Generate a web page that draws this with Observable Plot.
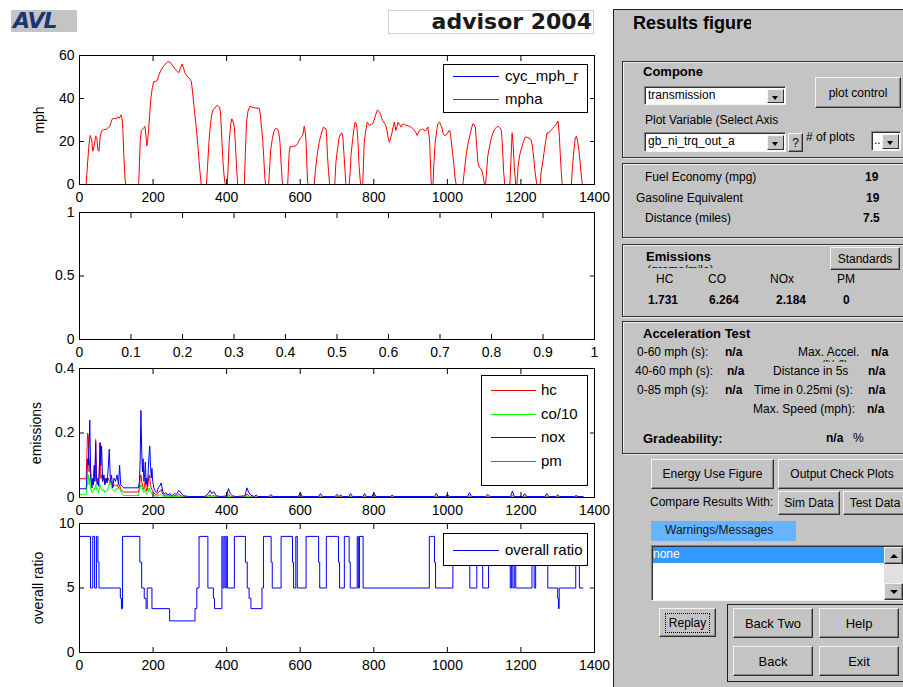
<!DOCTYPE html>
<html>
<head>
<meta charset="utf-8">
<script src="https://cdn.jsdelivr.net/npm/d3@7"></script>
<script src="https://cdn.jsdelivr.net/npm/@observablehq/plot@0.6"></script>
<style>
body{margin:0;background:#fff;}
#root{position:relative;width:903px;height:687px;overflow:hidden;background:#fff;font-family:'Liberation Sans',Arial,Helvetica,sans-serif;}
.t{position:absolute;font-size:12px;line-height:14px;white-space:nowrap;color:#000;}
.b{font-weight:bold;}
.h{font-weight:bold;font-size:13px;}
.box{position:absolute;border:1px solid #303030;box-shadow:inset 1px 1px 0 #ececec,1px 1px 0 #ececec;}
.btn{position:absolute;box-sizing:border-box;background:#c4c4c4;border:1px solid;border-color:#f4f4f4 #303030 #303030 #f4f4f4;box-shadow:inset -1px -1px 0 #858585;font-size:12px;display:flex;align-items:center;justify-content:center;white-space:nowrap;color:#000;}
.dd{position:absolute;box-sizing:border-box;background:#fff;border:1px solid;border-color:#858585 #f4f4f4 #f4f4f4 #858585;box-shadow:inset 1px 1px 0 #303030;font-size:12px;line-height:16px;padding-left:3px;white-space:nowrap;overflow:hidden;}
.arr{position:absolute;top:2px;right:1px;bottom:1px;width:17px;box-sizing:border-box;background:#c4c4c4;border:1px solid;border-color:#f4f4f4 #303030 #303030 #f4f4f4;}
.arr::after{content:"";position:absolute;left:4px;top:6px;border-left:3px solid transparent;border-right:3px solid transparent;border-top:4px solid #000;}
.leg{position:absolute;box-sizing:border-box;background:#fff;border:1px solid #000;font-size:15px;}
.leg .ln{position:absolute;height:0;border-top:1px solid;}
.leg .lt{position:absolute;line-height:16px;white-space:nowrap;}
</style>
</head>
<body>
<div id="root">
  <!-- header -->
  <div style="position:absolute;left:11px;top:10px;width:66px;height:22px;background:#c4c4c4;"></div>
  <div style="position:absolute;left:13px;top:10px;font:italic bold 22px/22px 'DejaVu Sans',sans-serif;color:#1c3472;letter-spacing:-1px;white-space:nowrap;">AVL</div>
  <div style="position:absolute;left:388px;top:10px;width:206px;height:24px;border:1px solid #d0d0d0;box-sizing:border-box;"></div>
  <div style="position:absolute;left:400px;width:192px;text-align:right;top:10px;font:bold 22px/24px 'DejaVu Sans',sans-serif;color:#1a1a1a;white-space:nowrap;">advisor 2004</div>

  <!-- right GUI panel -->
  <div style="position:absolute;left:613px;top:9px;width:300px;height:690px;background:#c4c4c4;border-left:1px solid #202020;border-top:1px solid #202020;"></div>
  <div class="t" style="left:633px;top:13px;width:118px;overflow:hidden;font-size:18px;line-height:20px;font-weight:bold;">Results figure</div>

  <div class="box" style="left:622px;top:61px;width:300px;height:95px;"></div>
  <div class="t h" style="left:643px;top:65px;">Compone</div>
  <div class="dd" style="left:644px;top:86px;width:142px;height:19px;">transmission<div class="arr"></div></div>
  <div class="btn" style="left:815px;top:77px;width:86px;height:31px;">plot control</div>
  <div class="t" style="left:645px;top:113px;">Plot Variable (Select Axis</div>
  <div class="dd" style="left:644px;top:132px;width:142px;height:20px;">gb_ni_trq_out_a<div class="arr"></div></div>
  <div class="btn" style="left:788px;top:133px;width:15px;height:19px;">?</div>
  <div class="t" style="left:806px;top:130px;">#&nbsp;of plots</div>
  <div class="dd" style="left:871px;top:131px;width:30px;height:20px;padding-left:2px;">..<div class="arr"></div></div>

  <div class="box" style="left:622px;top:163px;width:300px;height:73px;"></div>
  <div class="t" style="left:645px;top:170px;">Fuel Economy (mpg)</div>
  <div class="t b" style="left:865px;top:170px;">19</div>
  <div class="t" style="left:636px;top:191px;">Gasoline Equivalent</div>
  <div class="t b" style="left:866px;top:191px;">19</div>
  <div class="t" style="left:645px;top:211px;">Distance (miles)</div>
  <div class="t b" style="left:863px;top:211px;">7.5</div>

  <div class="box" style="left:622px;top:244px;width:300px;height:71px;"></div>
  <div class="t h" style="left:646px;top:250px;">Emissions</div>
  <div class="btn" style="left:830px;top:247px;width:70px;height:23px;">Standards</div>
  <div style="position:absolute;left:647px;top:264px;width:70px;height:4px;overflow:hidden;"><div class="t" style="left:0;top:-1px;">(grams/mile)</div></div>
  <div class="t" style="left:656px;top:272px;">HC</div>
  <div class="t" style="left:708px;top:272px;">CO</div>
  <div class="t" style="left:770px;top:272px;">NOx</div>
  <div class="t" style="left:837px;top:272px;">PM</div>
  <div class="t b" style="left:648px;top:293px;">1.731</div>
  <div class="t b" style="left:709px;top:293px;">6.264</div>
  <div class="t b" style="left:776px;top:293px;">2.184</div>
  <div class="t b" style="left:843px;top:293px;">0</div>

  <div class="box" style="left:622px;top:321px;width:300px;height:131px;"></div>
  <div class="t h" style="left:643px;top:327px;">Acceleration Test</div>
  <div class="t" style="left:637px;top:345px;">0-60 mph (s):</div>
  <div class="t b" style="left:725px;top:345px;">n/a</div>
  <div class="t" style="left:798px;top:345px;">Max. Accel.</div>
  <div class="t b" style="left:871px;top:345px;">n/a</div>
  <div style="position:absolute;left:822px;top:359px;width:36px;height:3px;overflow:hidden;"><div class="t" style="left:0;top:-1px;font-size:10px;">(ft/s2)</div></div>
  <div class="t" style="left:635px;top:364px;">40-60 mph (s):</div>
  <div class="t b" style="left:727px;top:364px;">n/a</div>
  <div class="t" style="left:773px;top:364px;">Distance in 5s</div>
  <div class="t b" style="left:868px;top:364px;">n/a</div>
  <div class="t" style="left:637px;top:383px;">0-85 mph (s):</div>
  <div class="t b" style="left:725px;top:383px;">n/a</div>
  <div class="t" style="left:754px;top:383px;">Time in 0.25mi (s):</div>
  <div class="t b" style="left:868px;top:383px;">n/a</div>
  <div class="t" style="left:753px;top:402px;">Max. Speed (mph):</div>
  <div class="t b" style="left:867px;top:402px;">n/a</div>
  <div class="t h" style="left:643px;top:432px;">Gradeability:</div>
  <div class="t b" style="left:826px;top:431px;">n/a</div>
  <div class="t" style="left:853px;top:431px;">%</div>

  <div class="btn" style="left:651px;top:459px;width:123px;height:30px;">Energy Use Figure</div>
  <div class="btn" style="left:778px;top:459px;width:128px;height:30px;">Output Check Plots</div>
  <div class="t" style="left:650px;top:495px;">Compare Results With:</div>
  <div class="btn" style="left:778px;top:491px;width:62px;height:24px;">Sim Data</div>
  <div class="btn" style="left:843px;top:491px;width:64px;height:24px;">Test Data</div>
  <div class="t" style="left:651px;top:521px;width:145px;height:20px;background:#66b3ff;line-height:18px;padding-left:14px;box-sizing:border-box;color:#1a1a1a;">Warnings/Messages</div>
  <div class="dd" style="left:651px;top:545px;width:256px;height:56px;padding:0;"></div>
  <div class="t" style="left:653px;top:547px;width:231px;height:16px;background:#3399ff;color:#fff;line-height:15px;">none</div>
  <div style="position:absolute;left:884px;top:547px;width:19px;height:53px;background:#e0e0e0;"></div>
  <div class="btn" style="left:884px;top:547px;width:19px;height:17px;"><div style="border-left:4px solid transparent;border-right:4px solid transparent;border-bottom:4px solid #000;"></div></div>
  <div class="btn" style="left:884px;top:583px;width:19px;height:17px;"><div style="border-left:4px solid transparent;border-right:4px solid transparent;border-top:4px solid #000;"></div></div>

  <div class="btn" style="left:659px;top:608px;width:57px;height:29px;"><span style="outline:1px dotted #000;outline-offset:2px;padding:0 1px;">Replay</span></div>
  <div style="position:absolute;left:727px;top:604px;width:200px;height:78px;border:1px solid #202020;box-sizing:border-box;"></div>
  <div class="btn" style="left:733px;top:608px;width:80px;height:30px;font-size:13px;">Back Two</div>
  <div class="btn" style="left:819px;top:608px;width:80px;height:30px;font-size:13px;">Help</div>
  <div class="btn" style="left:733px;top:646px;width:80px;height:30px;font-size:13px;">Back</div>
  <div class="btn" style="left:819px;top:646px;width:80px;height:30px;font-size:13px;">Exit</div>
</div>
<script>
// ---------------- data ----------------
const timeTicks = [0, 200, 400, 600, 800, 1000, 1200, 1400];
const unitTicks = [0, 0.1, 0.2, 0.3, 0.4, 0.5, 0.6, 0.7, 0.8, 0.9, 1];
const mphTicks = [0, 20, 40, 60];
const unitYTicks = [0, 0.5, 1];
const emisTicks = [0, 0.2, 0.4];
const ratioTicks = [0, 5, 10];

// achieved vehicle speed [time s, mph]; the requested cycle (cyc_mph_r) lies exactly underneath
const mphaPoints = [
[0,0],[18,0],[22,10],[26,19],[29,22.8],[33,21],[36,15.5],[40,18],[44,22.5],[47,22],
[50,16],[53,15.5],[56,22],[60,25],[66,25.5],[72,25.6],[78,26.5],[82,27],[86,29],[89,30.5],
[95,30.8],[100,30.5],[104,31.5],[108,30.8],[113,32.4],[116,30],[118,25],[121,12],[124,2],[126,0],
[161,0],[163,10],[165,20],[168,25],[171,25.6],[175,26.5],[178,27],[181,22],[183,18],[185,20],
[188,26],[191,33],[194,40],[198,45],[202,47.9],[207,48],[212,48.5],[216,51],[221,53],[226,54.5],
[231,55.5],[236,56.5],[241,57.2],[246,56.8],[251,55.8],[256,54.7],[261,53.5],[266,52.5],[270,52],[274,54],
[279,56.1],[283,54],[286,52],[290,51],[295,49.9],[300,49],[304,48],[308,42],[312,35.2],[317,27],
[321,19.7],[325,11],[329,3],[331,0],[345,0],[348,8],[352,20],[356,28],[360,33],[364,35],
[368,35.5],[372,36.5],[376,36.7],[380,36],[383,34],[386,25],[389,13.5],[392,6],[395,1],[397,0],
[402,0],[404,8],[407,20],[411,28],[414,30.5],[417,29.5],[421,26.7],[424,18],[427,8],[430,0],
[448,0],[451,15],[454,29],[458,34],[463,36.4],[468,36],[475,35.7],[482,35.5],[489,35.5],[492,32],
[495,26],[498,21],[501,12],[504,3],[506,0],[514,0],[517,8],[520,16.6],[524,21],[528,24.5],
[532,25.8],[536,26.2],[539,25.5],[542,24],[545,19.7],[548,10],[551,2],[553,0],[566,0],[568,8],
[570,15],[573,17.8],[577,17.5],[582,17.8],[588,18],[593,19],[599,21.2],[603,22],[607,23],[611,27.1],
[614,24],[616,19.7],[618,10],[620,1],[622,0],[638,0],[641,6],[645,12],[648,16],[652,20],
[656,22.8],[660,25],[663,26.7],[667,26.2],[670,25.9],[672,22],[674,13.5],[677,6],[680,0],[694,0],
[697,10.4],[701,16],[706,22],[710,23.6],[713,24],[716,22],[719,14],[722,6],[724,0],[733,0],
[736,6],[738,13.5],[742,20],[746,25.9],[749,29],[752,28.5],[754,26.7],[757,20],[760,8.8],[763,2],
[765,0],[770,0],[772,10],[774,19.7],[778,25],[782,29],[785,28.5],[788,27.4],[793,28],[797,28.2],
[801,30],[806,32.9],[810,34.7],[814,34],[818,32.9],[821,31],[824,29.8],[829,28.5],[833,27.4],[836,25],
[838,22.8],[842,19.7],[845,21],[849,23.6],[853,27],[856,29],[860,25.1],[863,27],[866,29],[870,28],
[874,26.7],[878,28],[883,28.2],[887,27.5],[892,27.4],[897,27],[902,26.7],[906,26],[911,25.1],[915,24],
[918,22.8],[921,24],[924,25.1],[929,25.5],[933,25.9],[938,25],[942,25.1],[947,26.7],[950,23],[952,19.7],
[954,10],[956,1],[957,0],[961,0],[963,8],[967,19.7],[971,25],[974,28.2],[979,29],[982,27.5],
[985,26.7],[988,24],[992,22.8],[996,23],[1000,23.6],[1004,25],[1006,25.1],[1008,24],[1010,21.2],[1014,15],
[1018,8.8],[1021,3],[1024,0],[1042,0],[1046,6],[1051,13.5],[1055,18],[1060,22],[1064,25],[1069,28.2],
[1072,28],[1076,26.7],[1079,20],[1083,10.4],[1087,8],[1092,7.3],[1096,5],[1099,2],[1101,0],[1104,0],
[1107,7],[1110,13.5],[1115,18],[1120,22],[1124,24],[1129,25.9],[1133,26.5],[1138,27.1],[1142,26.5],[1147,25.1],
[1149,20],[1151,13.5],[1153,6],[1156,0],[1170,0],[1173,12],[1176,24],[1179,18],[1182,8],[1186,0],
[1189,0],[1192,8],[1197,14],[1202,17],[1207,20],[1212,22],[1217,22],[1222,21.5],[1227,21],[1231,18],
[1235,12],[1239,5],[1243,0],[1252,0],[1255,6],[1259,10],[1263,15],[1267,20],[1271,24],[1276,24],
[1281,25],[1286,26],[1291,27],[1296,28],[1301,29.5],[1304,24],[1307,14],[1310,5],[1312,0],[1337,0],
[1340,8],[1344,16],[1348,22],[1351,22.5],[1354,20],[1357,17],[1361,10],[1365,3],[1367,0],[1369,0]
];

// emissions traces (g/s)
const emisT = [
0,18,20,22,24,26,28,30,32,34, 36,38,40,42,44,46,48,50,52,54,
56,58,60,63,66,69,72,75,78,81, 84,87,90,94,98,102,106,109,112,116,
120,160,163,165,167,169,171,173,175,177, 179,181,183,185,187,189,191,193,195,197,
199,202,206,210,214,218,222,226,230,235, 240,246,252,258,264,270,276,282,290,300,
340,350,355,360,365,372,385,400,405,410, 416,425,450,455,460,466,475,480,485,515,
520,526,595,600,606,650,655,661,695,700, 705,710,715,732,737,742,770,775,780,795,
800,806,845,850,855,965,970,975,995,1000, 1005,1055,1060,1066,1105,1110,1116,1172,1177,1182,
1205,1210,1216,1265,1270,1276,1295,1300,1305,1345, 1350,1355,1369
];
const hcVals = [
0.058,0.058,0.13,0.20,0.19,0.08,0.12,0.06,0.05,0.04, 0.05,0.04,0.09,0.06,0.18,0.07,0.05,0.06,0.04,0.10,
0.17,0.06,0.07,0.05,0.07,0.04,0.06,0.05,0.06,0.05, 0.04,0.05,0.03,0.04,0.035,0.04,0.03,0.04,0.025,0.02,
0.017,0.017,0.03,0.06,0.07,0.05,0.04,0.03,0.025,0.04, 0.06,0.03,0.02,0.03,0.05,0.07,0.06,0.04,0.03,0.025,
0.02,0.015,0.01,0.008,0.015,0.02,0.025,0.01,0.006,0.008, 0.004,0.006,0.003,0.006,0.005,0.01,0.005,0.003,0.002,0.001,
0.001,0.005,0.008,0.004,0.006,0.002,0.001,0.002,0.009,0.004, 0.002,0.001,0.002,0.011,0.005,0.002,0.001,0.002,0.001,0.001,
0.003,0.001,0.001,0.004,0.001,0.001,0.004,0.001,0.001,0.003, 0.001,0.003,0.001,0.001,0.004,0.001,0.001,0.004,0.001,0.001,
0.005,0.001,0.001,0.002,0.001,0.001,0.004,0.001,0.001,0.003, 0.001,0.001,0.005,0.001,0.001,0.003,0.001,0.001,0.006,0.001,
0.001,0.004,0.001,0.001,0.004,0.001,0.001,0.003,0.001,0.001, 0.002,0.001,0.001
];
const co10Vals = [
0.010,0.010,0.03,0.05,0.07,0.04,0.06,0.03,0.02,0.015, 0.02,0.02,0.03,0.025,0.04,0.03,0.02,0.02,0.015,0.03,
0.04,0.03,0.025,0.02,0.025,0.015,0.02,0.02,0.03,0.04, 0.05,0.03,0.025,0.02,0.02,0.03,0.025,0.03,0.02,0.01,
0.006,0.006,0.02,0.03,0.04,0.035,0.03,0.02,0.015,0.02, 0.025,0.015,0.01,0.015,0.02,0.03,0.025,0.02,0.015,0.01,
0.008,0.006,0.005,0.004,0.006,0.008,0.01,0.004,0.003,0.004, 0.002,0.003,0.002,0.003,0.002,0.004,0.002,0.001,0.001,0.0005,
0.0005,0.002,0.003,0.002,0.002,0.001,0.0005,0.001,0.003,0.002, 0.001,0.0005,0.001,0.004,0.002,0.001,0.0005,0.001,0.0005,0.0005,
0.001,0.0005,0.0005,0.002,0.0005,0.0005,0.002,0.0005,0.0005,0.001, 0.0005,0.001,0.0005,0.0005,0.002,0.0005,0.0005,0.002,0.0005,0.0005,
0.002,0.0005,0.0005,0.001,0.0005,0.0005,0.002,0.0005,0.0005,0.001, 0.0005,0.0005,0.002,0.0005,0.0005,0.001,0.0005,0.0005,0.002,0.0005,
0.0005,0.002,0.0005,0.0005,0.002,0.0005,0.0005,0.001,0.0005,0.0005, 0.001,0.0005,0.0005
];
const noxVals = [
0.027,0.027,0.06,0.12,0.10,0.16,0.24,0.09,0.05,0.03, 0.06,0.04,0.10,0.05,0.17,0.06,0.04,0.05,0.035,0.08,
0.17,0.10,0.16,0.05,0.07,0.04,0.06,0.045,0.09,0.15, 0.05,0.07,0.03,0.06,0.05,0.07,0.04,0.10,0.04,0.035,
0.03,0.03,0.05,0.12,0.27,0.15,0.08,0.12,0.05,0.07, 0.11,0.04,0.06,0.035,0.09,0.13,0.16,0.10,0.06,0.09,
0.05,0.03,0.02,0.015,0.03,0.035,0.045,0.02,0.01,0.015, 0.008,0.012,0.006,0.012,0.01,0.022,0.014,0.006,0.004,0.003,
0.003,0.012,0.022,0.012,0.018,0.005,0.003,0.005,0.028,0.012, 0.005,0.003,0.005,0.03,0.016,0.007,0.003,0.008,0.003,0.003,
0.009,0.003,0.003,0.015,0.003,0.003,0.012,0.003,0.003,0.01, 0.003,0.008,0.003,0.003,0.012,0.003,0.003,0.012,0.003,0.003,
0.015,0.003,0.003,0.007,0.003,0.003,0.013,0.003,0.003,0.01, 0.003,0.003,0.015,0.003,0.003,0.01,0.003,0.003,0.02,0.003,
0.003,0.012,0.003,0.003,0.012,0.003,0.003,0.008,0.003,0.003, 0.006,0.003,0.003
];
const pmT = [0, 1369];
const pmVals = [0, 0];

// overall gear ratio steps [time s, ratio]
const ratioSteps = [
[0,9],[30,5],[36,9],[41,5],[46,9],[50,7],[53,5],[111,4.2],[114,3.4],[117,9],
[164,7],[169,5],[176,4.2],[181,3.4],[184,5],[197,3.4],[245,2.45],[314,3.4],[319,5],[325,9],
[349,5],[364,4.2],[367,3.4],[387,9],[390,5],[393,9],[396,5],[399,9],[402,5],[421,9],
[451,7],[456,5],[461,4.2],[466,3.4],[496,5],[500,9],[521,7],[524,5],[548,9],[579,7],
[582,5],[588,9],[592,5],[616,9],[650,7],[653,5],[671,9],[704,7],[707,5],[720,9],
[733,7],[736,5],[755,9],[758,5],[761,9],[771,5],[951,9],[965,7],[968,5],[1015,9],
[1058,7],[1061,5],[1080,9],[1094,7],[1096,5],[1112,9],[1171,5],[1174,9],[1178,5],[1182,9],
[1186,5],[1230,9],[1236,5],[1240,9],[1273,5],[1300,4.2],[1302,3.4],[1304,5],[1349,9],[1359,5],
[1369,5]
];

// ---------------- drawing ----------------
const root = document.getElementById("root");
const FONT = "'Liberation Sans', Arial, Helvetica, sans-serif";

function panel({frameTop, frameH, xDomain, xTicks, yDomain, yTicks, yLabel, labelOffset, marks}) {
  const mt = 12, mb = 28;
  const el = Plot.plot({
    width: 620, height: mt + frameH + mb,
    marginLeft: 79, marginRight: 26, marginTop: mt, marginBottom: mb,
    x: {domain: xDomain}, y: {domain: yDomain},
    style: {fontFamily: FONT, fontSize: "14px", color: "#000", background: "transparent", overflow: "visible"},
    marks: [
      ...marks,
      Plot.frame({stroke: "#000", strokeWidth: 1}),
      Plot.axisX(xTicks, {tickSize: 0, tickPadding: 8, tickFormat: d => String(d), label: null}),
      Plot.axisX(xTicks, {tickSize: -5, fill: "none", label: null}),
      Plot.axisX(xTicks, {anchor: "top", tickSize: -5, fill: "none", label: null}),
      Plot.axisY(yTicks, {tickSize: 0, tickPadding: 5, tickFormat: d => String(d),
        label: yLabel, labelAnchor: "center", labelOffset: labelOffset, labelArrow: "none"}),
      Plot.axisY(yTicks, {tickSize: -5, fill: "none", label: null}),
      Plot.axisY(yTicks, {anchor: "right", tickSize: -5, fill: "none", label: null})
    ]
  });
  el.style.position = "absolute";
  el.style.left = "0px";
  el.style.top = (frameTop - mt) + "px";
  root.appendChild(el);
}

panel({
  frameTop: 55, frameH: 129, xDomain: [0, 1400], xTicks: timeTicks, yDomain: [0, 60], yTicks: mphTicks,
  yLabel: "mph", labelOffset: 45,
  marks: [
    Plot.line(mphaPoints, {x: d => d[0], y: d => d[1], stroke: "#ff0000", strokeWidth: 1})
  ]
});

panel({
  frameTop: 212, frameH: 127, xDomain: [0, 1], xTicks: unitTicks, yDomain: [0, 1], yTicks: unitYTicks,
  yLabel: null, labelOffset: 45, marks: []
});

panel({
  frameTop: 368, frameH: 129, xDomain: [0, 1400], xTicks: timeTicks, yDomain: [0, 0.4], yTicks: emisTicks,
  yLabel: "emissions", labelOffset: 48,
  marks: [
    Plot.line(pmT, {x: pmT, y: pmVals, stroke: "#ff00ff", strokeWidth: 1}),
    Plot.line(emisT, {x: emisT, y: hcVals, stroke: "#ff0000", strokeWidth: 1}),
    Plot.line(emisT, {x: emisT, y: co10Vals, stroke: "#00ff00", strokeWidth: 1}),
    Plot.line(emisT, {x: emisT, y: noxVals, stroke: "#0000ff", strokeWidth: 1})
  ]
});

panel({
  frameTop: 523, frameH: 129, xDomain: [0, 1400], xTicks: timeTicks, yDomain: [0, 10], yTicks: ratioTicks,
  yLabel: "overall ratio", labelOffset: 46,
  marks: [
    Plot.line(ratioSteps, {x: d => d[0], y: d => d[1], curve: "step-after", stroke: "#0000ff", strokeWidth: 1})
  ]
});

// legends (MATLAB style boxes)
function legend(left, top, w, h, entries, lineLeft, lineW, textLeft, rowTops) {
  const box = document.createElement("div");
  box.className = "leg";
  Object.assign(box.style, {left: left + "px", top: top + "px", width: w + "px", height: h + "px"});
  entries.forEach((e, i) => {
    const ln = document.createElement("div");
    ln.className = "ln";
    Object.assign(ln.style, {left: lineLeft + "px", top: rowTops[i] + "px", width: lineW + "px", borderTopColor: e.color});
    const tx = document.createElement("div");
    tx.className = "lt";
    tx.textContent = e.name;
    Object.assign(tx.style, {left: textLeft + "px", top: (rowTops[i] - 8) + "px"});
    box.appendChild(ln); box.appendChild(tx);
  });
  root.appendChild(box);
}
legend(443, 64, 145, 49, [{name: "cyc_mph_r", color: "#0000ff"}, {name: "mpha", color: "#ff0000"}], 9, 46, 61, [11, 34]);
legend(481, 375, 107, 111, [{name: "hc", color: "#ff0000"}, {name: "co/10", color: "#00ff00"}, {name: "nox", color: "#0000ff"}, {name: "pm", color: "#ff00ff"}], 9, 45, 59, [14, 38, 61, 85]);
legend(443, 533, 145, 33, [{name: "overall ratio", color: "#0000ff"}], 9, 46, 61, [16]);
</script>
</body>
</html>
